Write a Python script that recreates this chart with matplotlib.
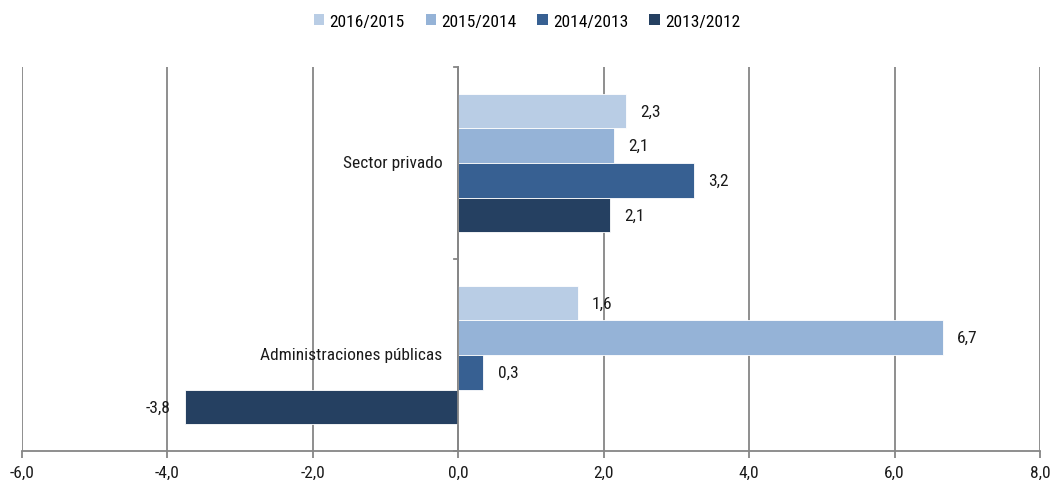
import matplotlib
matplotlib.use("Agg")
import matplotlib.pyplot as plt
from matplotlib import font_manager
from matplotlib.patches import Patch

# data
categories = ["Sector privado", "Administraciones públicas"]
series = ["2016/2015", "2015/2014", "2014/2013", "2013/2012"]
values = {
    "2016/2015": [2.30, 1.64],
    "2015/2014": [2.14, 6.66],
    "2014/2013": [3.24, 0.34],
    "2013/2012": [2.08, -3.76],
}
colors = ["#B9CDE5", "#95B3D7", "#376092", "#254061"]
xticks = [-6, -4, -2, 0, 2, 4, 6, 8]

# pick a narrow font if one is around
available = {f.name for f in font_manager.fontManager.ttflist}
family = "DejaVu Sans"
for cand in ["Roboto Condensed", "Liberation Sans Narrow", "DejaVu Sans Condensed", "Open Sans Condensed"]:
    if cand in available:
        family = cand
        break
plt.rcParams["font.family"] = [family, "DejaVu Sans"]


def fmt(v):
    return f"{v:.1f}".replace(".", ",")


fig = plt.figure(figsize=(10.51, 4.81), dpi=100)
ax = fig.add_axes([22 / 1051, 1 - 452 / 481, 1018 / 1051, 384 / 481])

h = 0.18
grid_c = "#868686"
txt_c = "#1a1a1a"
for i, name in enumerate(series):
    off = (i - 1.5) * h
    ys = [k + 0.5 + off for k in range(len(categories))]
    vals = values[name]
    ax.barh(ys, vals, height=h, color=colors[i], edgecolor="white", linewidth=0.6, zorder=3)
    for y, v in zip(ys, vals):
        if v >= 0:
            ax.text(v + 0.2, y, fmt(v), ha="left", va="center", fontsize=12.5, color=txt_c, zorder=4)
        else:
            ax.text(v - 0.2, y, fmt(v), ha="right", va="center", fontsize=12.5, color=txt_c, zorder=4)

ax.set_xlim(-6, 8)
ax.set_ylim(2, 0)
ax.set_xticks(xticks)
ax.set_xticklabels([fmt(t) for t in xticks], fontsize=12.5, color=txt_c)
ax.set_yticks([])
ax.grid(axis="x", color=grid_c, linewidth=1.3, zorder=0)

for s in ["top", "right", "left"]:
    ax.spines[s].set_visible(False)
ax.spines["bottom"].set_color(grid_c)
ax.spines["bottom"].set_linewidth(1.3)
ax.tick_params(axis="x", direction="out", length=5, color=grid_c, width=1.3, pad=5)

# category axis sits at zero
ax.plot([0, 0], [0, 2], color=grid_c, linewidth=1.3, zorder=5, clip_on=False)
for yb in [0, 1, 2]:
    ax.plot([-0.06, 0], [yb, yb], color=grid_c, linewidth=1.3, zorder=5, clip_on=False)
for k, cat in enumerate(categories):
    ax.text(-0.22, k + 0.5, cat, ha="right", va="center", fontsize=12.5, color=txt_c, zorder=4)

handles = [Patch(facecolor=c, edgecolor="none", label=s) for s, c in zip(series, colors)]
fig.legend(handles=handles, loc="center", bbox_to_anchor=(527 / 1051, 1 - 22 / 481), ncol=4,
           frameon=False, fontsize=12.5, handlelength=0.6, handleheight=0.6, handletextpad=0.3,
           columnspacing=1.2)

fig.savefig("out.png", dpi=100)
